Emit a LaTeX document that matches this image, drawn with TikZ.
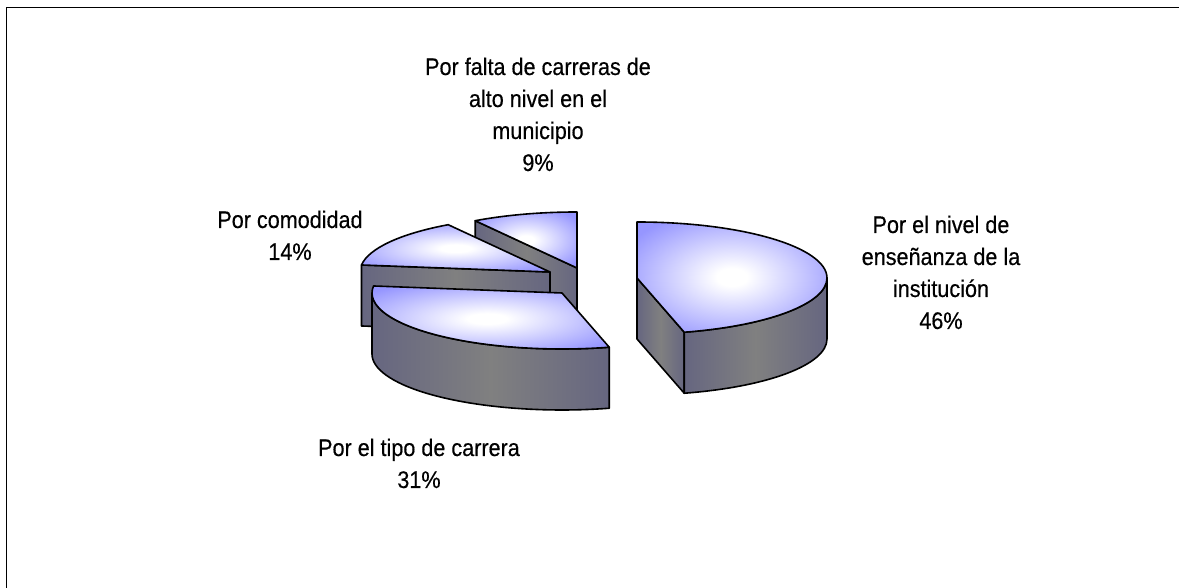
\documentclass[tikz,border=0pt]{standalone}
\usepackage{fontspec}
\usetikzlibrary{calc}
\newfontfamily\lblfont[FakeStretch=0.9,FakeBold=0.4]{Liberation Sans}
\definecolor{topblue}{RGB}{150,150,255}
\definecolor{sidedark}{RGB}{76,76,128}
\definecolor{sidegray}{RGB}{128,128,128}
\pgfdeclareradialshading{topshade}{\pgfpointorigin}{color(0bp)=(white); color(4bp)=(white); color(31bp)=(topblue); color(50bp)=(topblue)}
\pgfdeclarehorizontalshading{sideshade}{100bp}{color(0bp)=(sidedark); color(50bp)=(sidegray); color(100bp)=(sidedark)}
\newcommand\pielabel[1]{\vtop{\lblfont\fontsize{24pt}{32pt}\selectfont\halign{\hfil##\hfil\cr#1\crcr}}}
\begin{document}
\begin{tikzpicture}[x=1pt,y=1pt,
  face/.style={draw=black, line width=1.6pt, line join=round},
  topface/.style={face, shading=topshade},
  sideface/.style={face, shading=sideshade},
  ell/.style={x radius=190pt, y radius=56pt},
  lbl/.style={inner sep=0pt, anchor=base}]
\useasboundingbox (0,0) rectangle (1179,588);
\draw[line width=1.2pt] (6.5,0) -- (6.5,580.5) -- (1179,580.5);
\coordinate (A) at (637,310);
\coordinate (B) at (562,295);
\coordinate (C) at (550,316);
\coordinate (D) at (577,320);
% 9%
\path[sideface] (D) -- ++(122.4:190pt and 56pt) -- ++(0,-61) -- ($(D)+(0,-61)$) -- cycle;
\path[topface] (D) -- ++(90:190pt and 56pt) arc[ell, start angle=90, end angle=122.4] -- cycle;
% 14%
\path[sideface] (C) -- ++(172.8:190pt and 56pt) -- ++(0,-61) -- ($(C)+(0,-61)$) -- cycle;
\path[topface] (C) -- ++(122.4:190pt and 56pt) arc[ell, start angle=122.4, end angle=172.8] -- cycle;
% 31%
\path[sideface] ($(B)+(180:190pt and 56pt)$) arc[ell, start angle=180, end angle=284.4] -- ++(0,-61) arc[ell, start angle=284.4, end angle=180] -- cycle;
\path[topface] (B) -- ++(172.8:190pt and 56pt) arc[ell, start angle=172.8, end angle=284.4] -- cycle;
% 46%
\path[sideface] (A) -- ++(-75.6:190pt and 56pt) -- ++(0,-61) -- ($(A)+(0,-61)$) -- cycle;
\path[sideface] ($(A)+(-75.6:190pt and 56pt)$) arc[ell, start angle=-75.6, end angle=0] -- ++(0,-61) arc[ell, start angle=0, end angle=-75.6] -- cycle;
\path[topface] (A) -- ++(90:190pt and 56pt) arc[ell, start angle=90, end angle=-75.6] -- cycle;
% labels
\node[lbl] (l9) at (538,513) {\pielabel{Por falta de carreras de\cr alto nivel en el\cr municipio\cr 9\%}};
\node[lbl] (l14) at (290,360) {\pielabel{Por comodidad\cr 14\%}};
\node[lbl] (l46) at (941,355) {\pielabel{Por el nivel de\cr enseñanza de la\cr institución\cr 46\%}};
\node[lbl] (l31) at (419,132) {\pielabel{Por el tipo de carrera\cr 31\%}};
\end{tikzpicture}
\end{document}
